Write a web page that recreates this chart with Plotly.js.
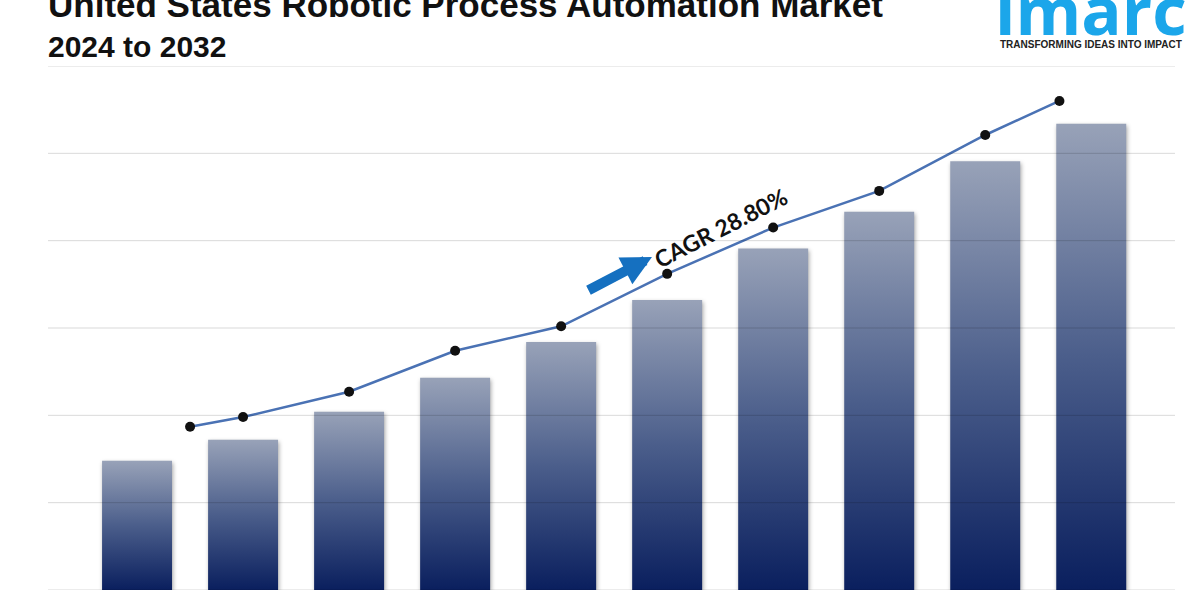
<!DOCTYPE html>
<html>
<head>
<meta charset="utf-8">
<script src="https://cdn.plot.ly/plotly-3.0.1.min.js"></script>
<style>
  html, body { margin: 0; padding: 0; background: #ffffff; }
  #chart { width: 1200px; height: 600px; }
</style>
</head>
<body>
<div id="chart"></div>
<script>
// ---- Data (arbitrary market-size units) ----
const years = [2023, 2024, 2025, 2026, 2027, 2028, 2029, 2030, 2031, 2032];
const barValues = [1.48, 1.72, 2.04, 2.43, 2.84, 3.32, 3.91, 4.33, 4.91, 5.34];
const trendYears = [2023.5, 2024, 2025, 2026, 2027, 2028, 2029, 2030, 2031, 2031.7];
const trendValues = [1.87, 1.98, 2.27, 2.74, 3.02, 3.62, 4.15, 4.57, 5.21, 5.60];
const gridTicks = [0, 1, 2, 3, 4, 5, 6];

const titleLine1 = 'United States Robotic Process Automation Market';
const titleLine2 = '2024 to 2032';
const cagrLabel = 'CAGR 28.80%';
const logoText = 'imarc';
const logoTagline = 'TRANSFORMING IDEAS INTO IMPACT';

// ---- Traces ----
const barTrace = {
  type: 'bar',
  x: years,
  y: barValues,
  width: 0.66,
  marker: { color: '#3b4f80', line: { width: 0 } },
  hoverinfo: 'skip'
};

const lineTrace = {
  type: 'scatter',
  mode: 'lines+markers',
  x: trendYears,
  y: trendValues,
  line: { color: '#4a72b4', width: 2.5 },
  marker: { color: '#111111', size: 10 },
  hoverinfo: 'skip'
};

// grid lines drawn above the bars (faint, like the reference)
const gridShapes = gridTicks.map(v => ({
  type: 'line', xref: 'paper', yref: 'y',
  x0: 0, x1: 1, y0: v, y1: v,
  line: { color: 'rgba(0,0,0,0.15)', width: 1 },
  layer: 'above'
}));

const layout = {
  width: 1200,
  height: 600,
  margin: { l: 48, r: 25, t: 66, b: 10 },
  paper_bgcolor: '#ffffff',
  plot_bgcolor: '#ffffff',
  showlegend: false,
  xaxis: {
    type: 'linear',
    range: [2022.16, 2032.79],
    visible: false,
    fixedrange: true
  },
  yaxis: {
    range: [0, 6],
    visible: false,
    showgrid: false,
    zeroline: false,
    fixedrange: true
  },
  shapes: gridShapes,
  annotations: [
    {
      text: '<b>' + titleLine1 + '</b>',
      xref: 'paper', yref: 'paper', x: 0, y: 1,
      xanchor: 'left', yanchor: 'bottom', xshift: -2, yshift: 40,
      showarrow: false,
      font: { family: 'Liberation Sans, Arial, sans-serif', size: 35, color: '#111111' }
    },
    {
      text: '<b>' + titleLine2 + '</b>',
      xref: 'paper', yref: 'paper', x: 0, y: 1,
      xanchor: 'left', yanchor: 'bottom', xshift: -2, yshift: 1,
      showarrow: false,
      font: { family: 'Liberation Sans, Arial, sans-serif', size: 30, color: '#111111' }
    },
    {
      text: '<b>' + logoText + '</b>',
      xref: 'paper', yref: 'paper', x: (998 - 48) / 1127, y: (590 - 9) / 524,
      xanchor: 'left', yanchor: 'middle', xshift: -5,
      showarrow: false,
      font: { family: 'Open Sans, sans-serif', size: 67, color: '#1ba6ea' }
    },
    {
      text: '<b>' + logoTagline + '</b>',
      xref: 'paper', yref: 'paper', x: (1091 - 48) / 1127, y: (590 - 45) / 524,
      xanchor: 'center', yanchor: 'middle',
      showarrow: false,
      font: { family: 'Liberation Sans, Arial, sans-serif', size: 10, color: '#222222' }
    },
    {
      text: '<b>' + cagrLabel + '</b>',
      xref: 'paper', yref: 'paper', x: (720 - 48) / 1127, y: (590 - 228) / 524,
      xanchor: 'center', yanchor: 'middle', textangle: -27,
      showarrow: false,
      font: { family: 'Lato, sans-serif', size: 23, color: '#111111' }
    },
    {
      text: '',
      xref: 'paper', yref: 'paper', x: (652 - 48) / 1127, y: (590 - 257) / 524,
      ax: -65, ay: 34,
      showarrow: true, arrowhead: 2, arrowsize: 0.6, arrowwidth: 10,
      arrowcolor: '#1570c0', standoff: 0, startstandoff: 0
    }
  ]
};

Plotly.newPlot('chart', [barTrace, lineTrace], layout, { staticPlot: true, displayModeBar: false })
  .then(gd => {
    const ns = 'http://www.w3.org/2000/svg';
    const svg = gd.querySelector('svg.main-svg');
    let defs = svg.querySelector('defs');
    if (!defs) { defs = document.createElementNS(ns, 'defs'); svg.insertBefore(defs, svg.firstChild); }
    const lg = document.createElementNS(ns, 'linearGradient');
    lg.setAttribute('id', 'barGrad');
    lg.setAttribute('x1', '0'); lg.setAttribute('y1', '0');
    lg.setAttribute('x2', '0'); lg.setAttribute('y2', '1');
    [['0', '#98a2b8'], ['0.5', '#4b5e8b'], ['1', '#0a1f5e']].forEach(([o, c]) => {
      const s = document.createElementNS(ns, 'stop');
      s.setAttribute('offset', o); s.setAttribute('stop-color', c);
      lg.appendChild(s);
    });
    defs.appendChild(lg);
    gd.querySelectorAll('.barlayer .point path').forEach(p => {
      p.style.fill = 'url(#barGrad)';
      p.style.filter = 'drop-shadow(1px 2px 2px rgba(0,0,0,0.35))';
    });
  });
</script>
</body>
</html>
